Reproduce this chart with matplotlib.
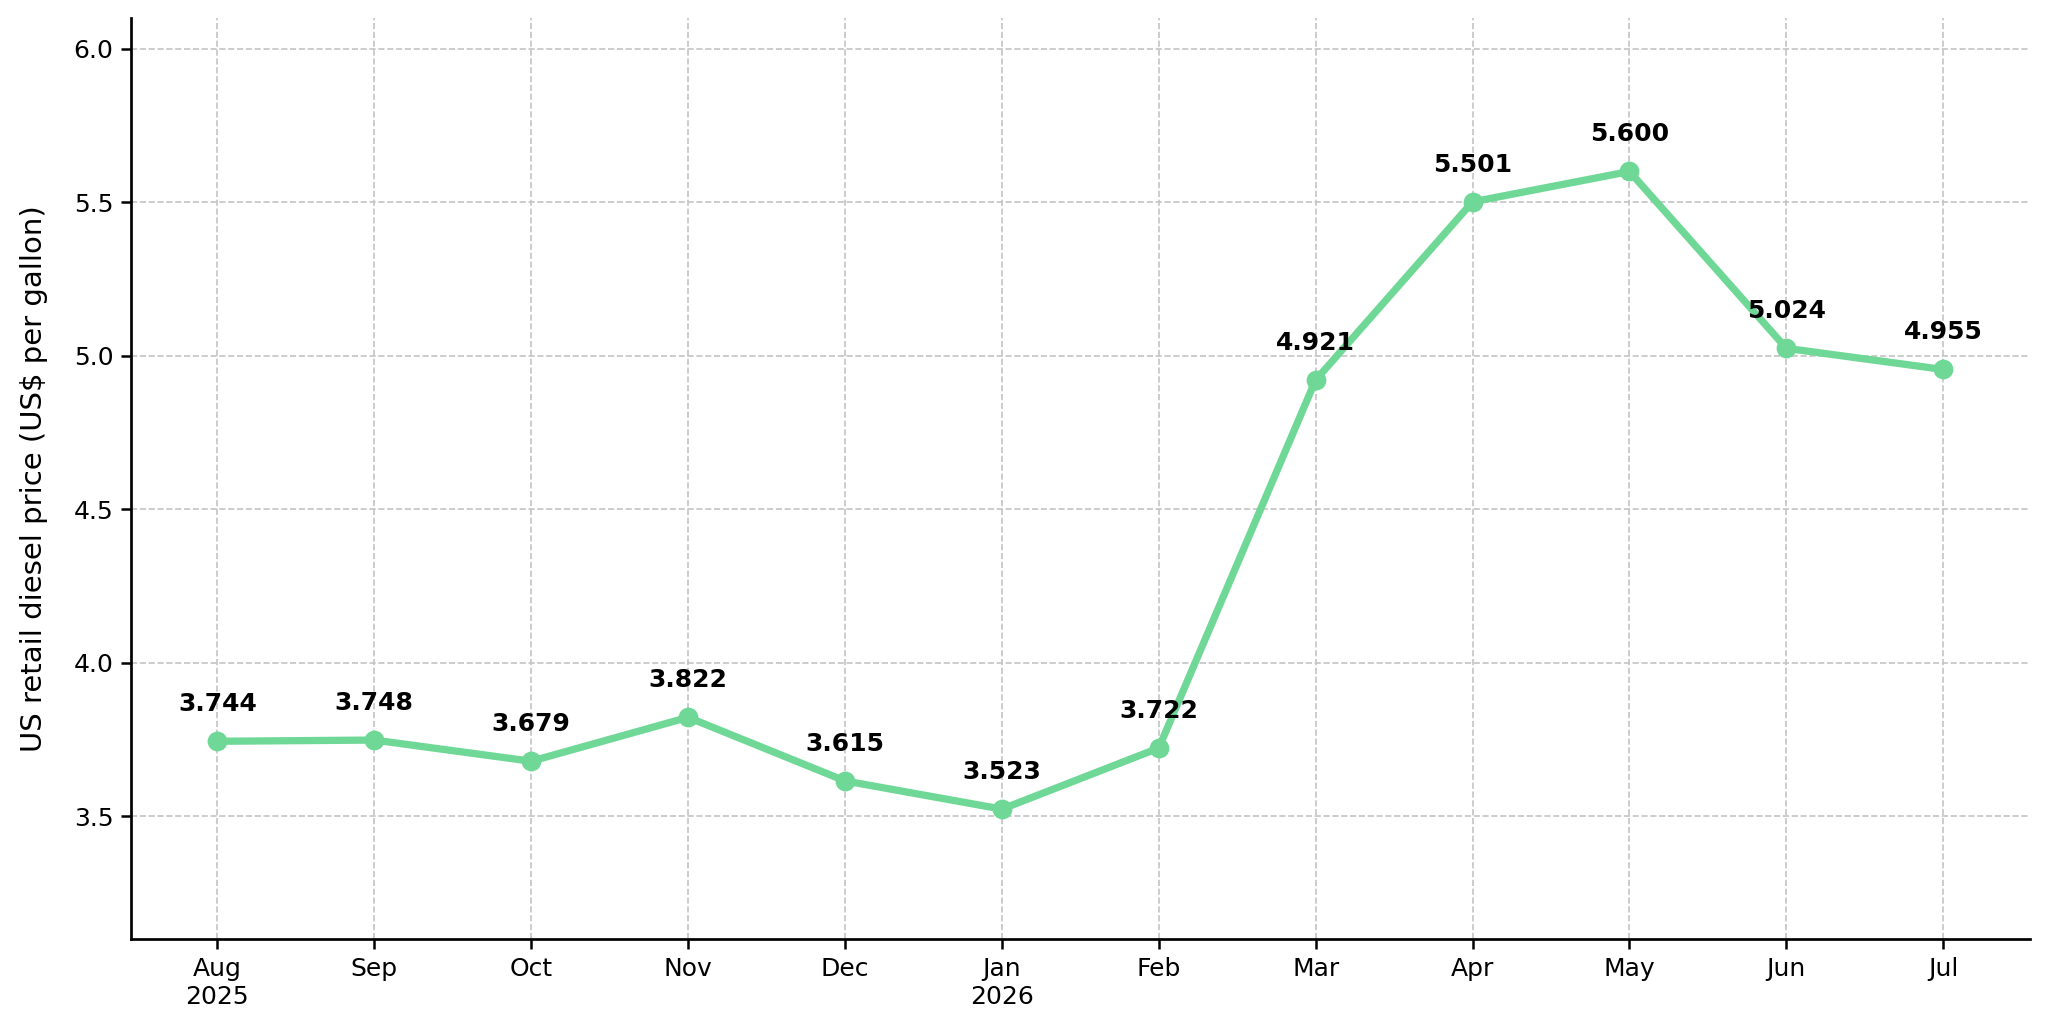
import matplotlib.pyplot as plt

months = ["Aug\n2025", "Sep", "Oct", "Nov", "Dec", "Jan\n2026", "Feb", "Mar", "Apr", "May", "Jun", "Jul"]
prices = [3.744, 3.748, 3.679, 3.822, 3.615, 3.523, 3.722, 4.921, 5.501, 5.600, 5.024, 4.955]

fig, ax = plt.subplots(figsize=(2048 / 150, 1033 / 150), dpi=150)
fig.subplots_adjust(left=0.064, right=0.991, top=0.9826, bottom=0.091)

x = list(range(len(months)))
ax.plot(x, prices, color="#6fd897", linewidth=3.5, marker="o", markersize=8.5)

for xi, value in zip(x, prices):
    ax.annotate(f"{value:.3f}", (xi, value), textcoords="offset points", xytext=(0, 12),
                ha="center", va="bottom", fontsize=12, fontweight="bold")

ax.set_xticks(x)
ax.set_xticklabels(months, fontsize=12)
ax.tick_params(axis="both", labelsize=12, width=1.2, length=5)
ax.set_ylim(3.1, 6.1)
ax.set_yticks([3.5, 4.0, 4.5, 5.0, 5.5, 6.0])
ax.set_ylabel("US retail diesel price (US$ per gallon)", fontsize=14, labelpad=12)
ax.grid(True, linestyle="--", color="#c4c4c4", linewidth=0.8)
for side in ["left", "bottom"]:
    ax.spines[side].set_linewidth(1.3)
ax.spines["top"].set_visible(False)
ax.spines["right"].set_visible(False)

plt.savefig("out.png", dpi=150)
